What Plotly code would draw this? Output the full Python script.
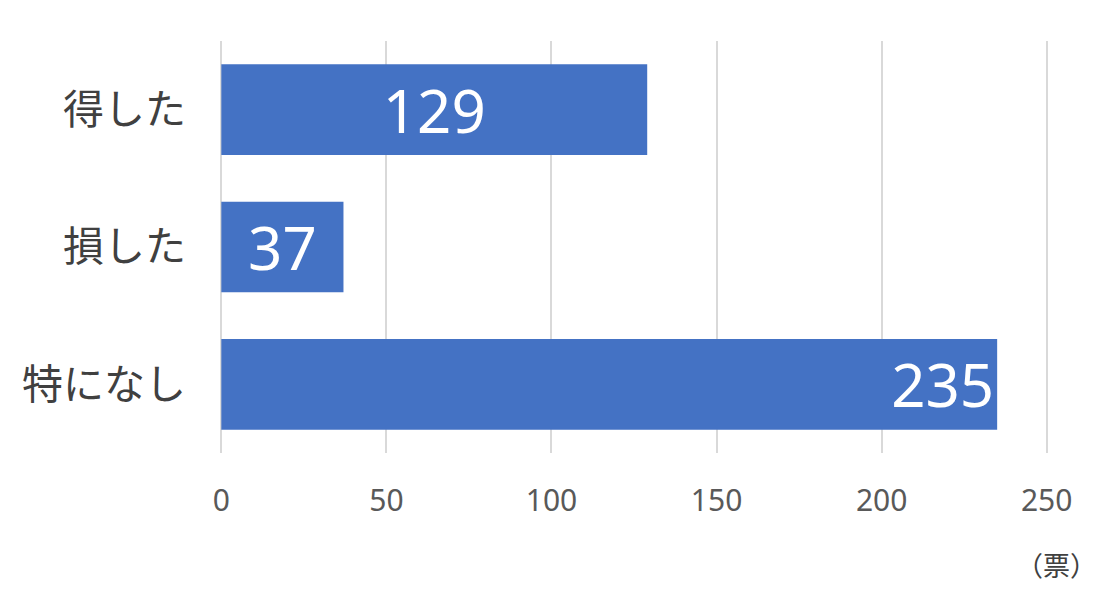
import plotly.graph_objects as go

categories = ["得した", "損した", "特になし"]
values = [129, 37, 235]
tick_vals = [0, 50, 100, 150, 200, 250]
unit_label = "（票）"

anchors = ["middle", "middle", "end"]

fig = go.Figure()
for cat, val, anc in zip(categories, values, anchors):
    fig.add_trace(go.Bar(
        y=[cat], x=[val], orientation="h",
        marker=dict(color="#4472C4", line=dict(width=0)),
        text=[str(val)], textposition="inside", insidetextanchor=anc,
        textfont=dict(family="Noto Sans", size=60, color="white"),
        cliponaxis=False, showlegend=False,
    ))

fig.update_layout(
    width=1100, height=605,
    margin=dict(l=212, r=60, t=33, b=160),
    paper_bgcolor="white", plot_bgcolor="white",
    barmode="overlay", bargap=0.34,
    font=dict(family="Noto Sans CJK JP"),
)
fig.update_xaxes(
    range=[-0.4, 250.4], tickvals=tick_vals, showgrid=True, gridcolor="#d9d9d9", gridwidth=1.5,
    zeroline=True, zerolinecolor="#d9d9d9", zerolinewidth=1.5, showline=False, ticks="",
    tickfont=dict(family="Noto Sans", size=30, color="#595959"),
    ticklabelstandoff=27,
)
fig.update_yaxes(
    categoryorder="array", categoryarray=categories[::-1],
    showgrid=False, zeroline=False, showline=False, ticks="",
    tickfont=dict(family="Noto Sans CJK JP", size=41, color="#404040"),
    ticklabelstandoff=33,
)
fig.add_annotation(
    text=unit_label, xref="paper", yref="paper", x=1.061, y=-0.27,
    xanchor="right", yanchor="middle", showarrow=False,
    font=dict(family="Noto Sans CJK JP", size=27, color="#404040"),
)
fig.write_html("out.html")
